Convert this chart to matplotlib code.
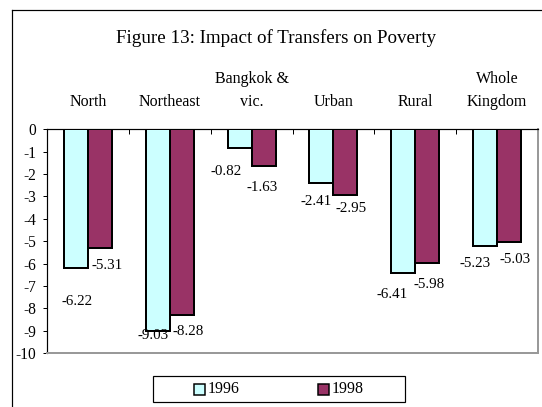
import numpy as np
import matplotlib
matplotlib.use("Agg")
import matplotlib.pyplot as plt
from matplotlib.patches import Rectangle
from matplotlib.lines import Line2D

plt.rcParams['font.family'] = ['Liberation Serif', 'DejaVu Serif']

regions = ["North", "Northeast", "Bangkok &\nvic.", "Urban", "Rural", "Whole\nKingdom"]
years = ["1996", "1998"]
change_1996 = [-6.22, -9.03, -0.82, -2.41, -6.41, -5.23]
change_1998 = [-5.31, -8.28, -1.63, -2.95, -5.98, -5.03]
colors = ["#CCFFFF", "#993366"]

# label nudges in pixels (dx, dy) -- Excel-style placement below the bar ends
nudge_1996 = [(1.5, -33), (-5, -4.5), (-13.5, -24), (-5, -18), (-11, -22), (-9.5, -17.5)]
nudge_1998 = [(7.5, -17.5), (6, -17), (-1.5, -22), (6, -13.5), (2, -21.5), (5.5, -18)]

W, H = 542, 407
fig = plt.figure(figsize=(W / 72, H / 72), dpi=72)


def fx(px):
    return px / W


def fy(py):
    return 1 - py / H


ax = fig.add_axes([fx(47), fy(353), fx(538) - fx(47), fy(129.3) - fy(353)])

x = np.arange(len(regions))
bw = 0.294
for k, (vals, nudges) in enumerate([(change_1996, nudge_1996), (change_1998, nudge_1998)]):
    xs = x + (k - 0.5) * bw
    ax.bar(xs, vals, width=bw, color=colors[k], edgecolor="black", linewidth=2, zorder=3)
    for xi, v, (dx, dy) in zip(xs, vals, nudges):
        ax.annotate(f"{v:.2f}", (xi, v), xytext=(dx, dy), textcoords="offset points",
                    ha="center", va="center", fontsize=15)

ax.set_xlim(-0.5, len(regions) - 0.5)
ax.set_ylim(-10, 0)
ax.set_yticks(np.arange(-10, 1, 1))
ax.set_yticklabels([str(v) for v in range(-10, 1)], fontsize=15.5)
ax.tick_params(axis="y", direction="out", length=4, width=1, pad=7)

# category boundaries as tick marks on the zero line
ax.set_xticks(np.arange(-0.5, len(regions), 1))
ax.set_xticklabels([])
ax.xaxis.set_ticks_position("top")
ax.tick_params(axis="x", direction="in", length=5, width=1)

ax.spines["top"].set_color("black")
ax.spines["left"].set_color("black")
ax.spines["right"].set_color("#999999")
ax.spines["bottom"].set_color("#999999")
for s in ax.spines.values():
    s.set_linewidth(1.2)
ax.spines["right"].set_linewidth(2)
ax.spines["bottom"].set_linewidth(2)

# category names above the plot
label_y = (fy(110) - fy(353)) / (fy(129.3) - fy(353))
for xi, name in zip(x, regions):
    ax.text(xi, label_y, name, transform=ax.get_xaxis_transform(), ha="center", va="bottom",
            fontsize=16, linespacing=1.55)

fig.text(fx(276), fy(43), "Figure 13: Impact of Transfers on Poverty", ha="center",
         va="baseline", fontsize=19)

# outer chart frame (runs off the right and bottom edge)
fig.add_artist(Line2D([fx(12), fx(12)], [fy(10), 0], color="black", lw=1.2))
fig.add_artist(Line2D([fx(12), 1], [fy(10), fy(10)], color="black", lw=1.2))

# legend box
fig.add_artist(Rectangle((fx(153), fy(402)), fx(405) - fx(153), fy(376) - fy(402),
                         facecolor="white", edgecolor="black", lw=1.2))
for sq_x, c, lab in zip([194, 318], colors, years):
    fig.add_artist(Rectangle((fx(sq_x), fy(394.5)), fx(11), 11 / H,
                             facecolor=c, edgecolor="black", lw=1.5))
    fig.text(fx(sq_x + 13.5), fy(389), lab, ha="left", va="center", fontsize=16)

fig.savefig("out.png", dpi=72)
